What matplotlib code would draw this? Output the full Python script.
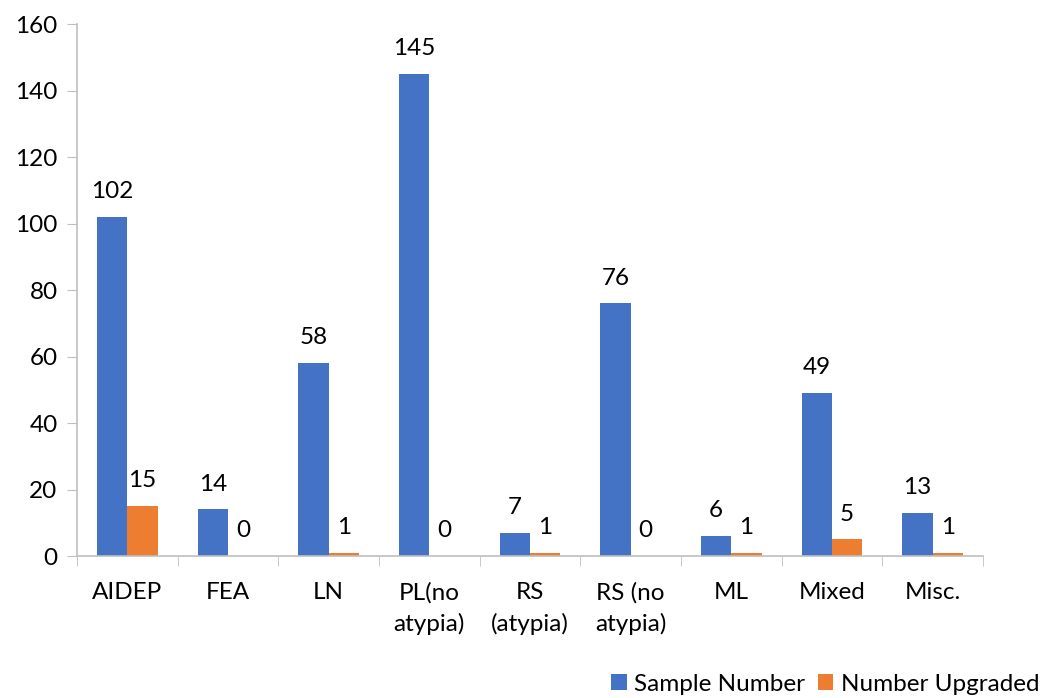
import numpy as np
import matplotlib.pyplot as plt

categories = ["AIDEP", "FEA", "LN", "PL(no\natypia)", "RS\n(atypia)",
              "RS (no\natypia)", "ML", "Mixed", "Misc."]
sample_number = [102, 14, 58, 145, 7, 76, 6, 49, 13]
number_upgraded = [15, 0, 1, 0, 1, 0, 1, 5, 1]
yticks = [0, 20, 40, 60, 80, 100, 120, 140, 160]

plt.rcParams["font.family"] = ["Lato", "DejaVu Sans"]

blue = "#4472C4"
orange = "#ED7D31"
axis_grey = "#BFBFBF"
fs = 17.5

fig = plt.figure(figsize=(10.51, 6.98), dpi=100)
ax = fig.add_axes([0.0733, 0.2034, 0.862, 0.7622])

x = np.arange(len(categories))
w = 0.3
b1 = ax.bar(x - w / 2, sample_number, w, color=blue, label="Sample Number")
b2 = ax.bar(x + w / 2, number_upgraded, w, color=orange, label="Number Upgraded")

# value labels sit a fixed distance above each bar
for bars, vals in ((b1, sample_number), (b2, number_upgraded)):
    for rect, v in zip(bars, vals):
        ax.annotate(str(v), (rect.get_x() + rect.get_width() / 2, v),
                    xytext=(0, 13.5), textcoords="offset points",
                    ha="center", va="baseline", fontsize=fs, color="#000000")

ax.set_xlim(-0.5, len(categories) - 0.5)
ax.set_ylim(0, 160)
ax.set_yticks(yticks)
ax.tick_params(axis="y", labelsize=fs, length=7, color=axis_grey, pad=7)

ax.set_xticks(x)
ax.set_xticklabels(categories, fontsize=fs, va="top", linespacing=1.5)
ax.tick_params(axis="x", which="major", length=0, pad=19)
ax.set_xticks(np.arange(-0.5, len(categories)), minor=True)
ax.tick_params(axis="x", which="minor", length=7, color=axis_grey)

for side in ("top", "right"):
    ax.spines[side].set_visible(False)
for side in ("left", "bottom"):
    ax.spines[side].set_color(axis_grey)
    ax.spines[side].set_linewidth(1.2)

fig.legend(handles=[b1, b2], loc="center right", bbox_to_anchor=(0.998, 0.02),
           ncol=2, frameon=False, fontsize=fs, handlelength=0.65, handleheight=0.65,
           handletextpad=0.3, columnspacing=0.5, borderaxespad=0)

fig.savefig("out.png", dpi=100)
